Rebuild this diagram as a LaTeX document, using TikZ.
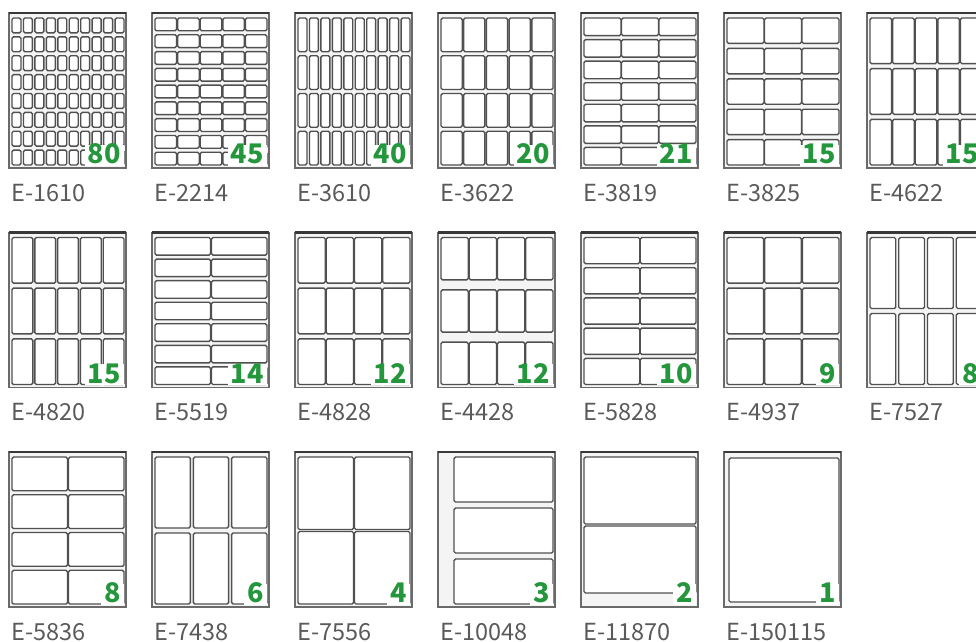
\documentclass[tikz,border=0pt]{standalone}
\usepackage{fontspec}
\newfontfamily\cjk{Noto Sans CJK SC}
\definecolor{numgreen}{RGB}{36,150,60}
\definecolor{edgegray}{RGB}{80,80,80}
\definecolor{sheetgray}{RGB}{244,244,244}
\definecolor{namegray}{RGB}{90,90,90}

\begin{document}
\begin{tikzpicture}[x=1pt,y=-1pt,
  sheet/.style={fill=sheetgray},
  sheetedge/.style={draw=edgegray!85,line width=1.2pt},
  topedge/.style={draw=edgegray!70!black,line width=2.4pt},
  labelbox/.style={fill=white,draw=edgegray,line width=1.4pt,rounded corners=1.5pt},
  sheetnum/.style={anchor=south east,fill=white,inner xsep=3pt,inner ysep=2pt,
    text height=17pt,text depth=0pt,text=numgreen,
    font=\cjk\bfseries\fontsize{27}{27}\selectfont},
  sheetname/.style={anchor=base west,inner sep=0pt,text=namegray,
    font=\cjk\fontsize{23.5}{24}\selectfont}]
  \clip (0,0) rectangle (976,641);
  % column / row / name / cols / rows / count / col gap / row gap / left, top, bottom inset
  \foreach \c/\r/\name/\nc/\nr/\n/\cg/\rg/\li/\ti/\bi [count=\k] in {
    0/0/1610/10/8/80/2.5/4/3/5/3,
    1/0/2214/5/9/45/1/4/3/5/3,
    2/0/3610/10/4/40/2.5/4/3/5/3,
    3/0/3622/5/4/20/1.5/4/3/5/3,
    4/0/3819/3/7/21/0.5/4/3/5/3,
    5/0/3825/3/5/15/0.5/5/3/5/3,
    6/0/4622/5/3/15/1/5/3/5/3,
    0/1/4820/5/3/15/2/5/3/5/3,
    1/1/5519/2/7/14/1/4/3/5/3,
    2/1/4828/4/3/12/1/5/3/5/3,
    3/1/4428/4/3/12/1/10/3/5/3,
    4/1/5828/2/5/10/0.5/4/3/5/3,
    5/1/4937/3/3/9/1/5/3/5/3,
    6/1/7527/4/2/8/3/5/3/5/3,
    0/2/5836/2/4/8/1/4/3/5/3,
    1/2/7438/3/2/6/3/5/3/5/3,
    2/2/7556/2/2/4/1/2/3/5/3,
    3/2/10048/1/3/3/0/6/16/5/3,
    4/2/11870/1/2/2/0/2/3/5/14,
    5/2/150115/1/1/1/0/0/5/6/5}
  {
    \pgfmathsetmacro\X{9+143*\c}
    \pgfmathsetmacro\Y{13+219.5*\r}
    \pgfmathsetmacro\lw{(117-\li-2-(\nc-1)*\cg)/\nc}
    \pgfmathsetmacro\lh{(155-\ti-\bi-(\nr-1)*\rg)/\nr}
    \fill[sheet] (\X,\Y) rectangle ++(117,155);
    \foreach \i in {1,...,\nc}
      \foreach \j in {1,...,\nr}
        \draw[labelbox] ({\X+\li+(\i-1)*(\lw+\cg)},{\Y+\ti+(\j-1)*(\lh+\rg)})
          rectangle ++(\lw,\lh);
    \node[sheetnum] (num\k) at (\X+115,\Y+153) {\n};
    \draw[sheetedge] (\X,\Y) rectangle ++(117,155);
    \draw[topedge] (\X,\Y) -- ++(117,0);
    \node[sheetname] (name\k) at (\X+2,\Y+188) {E-\name};
  }
\end{tikzpicture}
\end{document}
